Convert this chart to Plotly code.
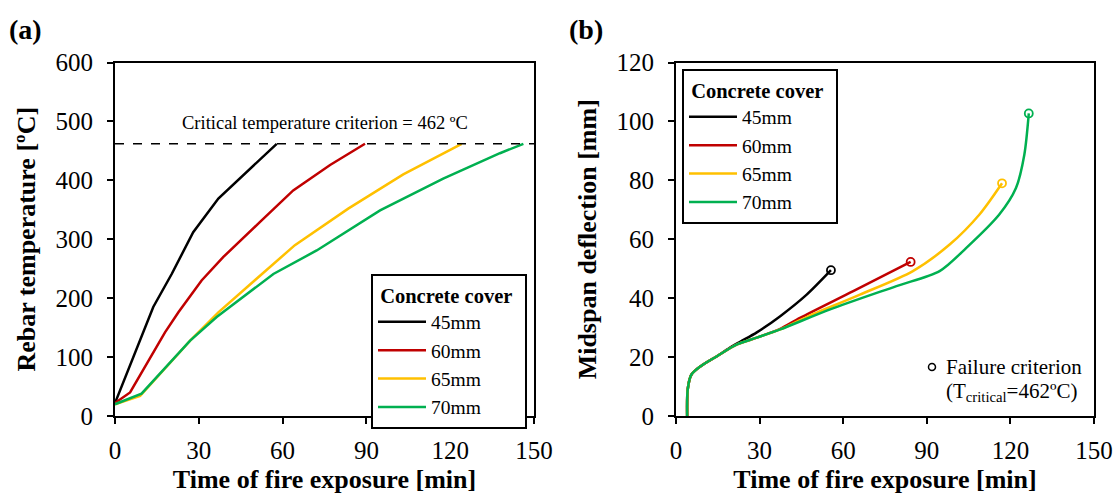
import plotly.graph_objects as go

# ---------------- data ----------------
series_names = ["45mm", "60mm", "65mm", "70mm"]
series_colors = ["#000000", "#C00000", "#FFC000", "#00B050"]

# (a) rebar temperature
time_a_45 = [0, 6.9, 13.7, 20.3, 28, 37, 57.9]
temp_a_45 = [22, 105, 185, 241, 312, 369, 462]
time_a_60 = [0, 5.4, 17.9, 22.7, 31, 38.8, 52.5, 63.8, 77, 89.5]
temp_a_60 = [22, 40, 142, 176, 230, 270, 332, 383, 426, 462]
time_a_65 = [0, 9, 26.9, 37, 64.4, 83.5, 103.2, 124.1]
temp_a_65 = [20, 34, 128, 176, 290, 352, 410, 462]
time_a_70 = [0, 9.5, 26.9, 36.4, 56.7, 72.2, 94.9, 117.5, 137.8, 146.2]
temp_a_70 = [20, 38, 128, 168, 241, 281, 349, 403, 446, 462]
critical_temp = 462

# (b) midspan deflection
time_b_45 = [4, 4.2, 5.5, 9, 14.7, 19, 23, 29, 37.4, 46.9, 55.6]
defl_b_45 = [0, 9, 14, 17, 20.3, 23, 25.2, 28.4, 33.9, 41.2, 49.5]
time_b_60 = [4, 4.2, 5.5, 9, 14.7, 21.9, 29, 37.4, 44.5, 63.6, 84.2]
defl_b_60 = [0, 9, 14, 17, 20.3, 24.3, 26.6, 29.6, 33.3, 42.4, 52.3]
time_b_65 = [4, 4.2, 5.5, 9, 14.7, 21.9, 29, 37.4, 46.9, 66, 85, 98.2, 108.9, 117]
defl_b_65 = [0, 9, 14, 17, 20.3, 24.3, 26.6, 29.4, 33.6, 41.2, 49.2, 58.2, 68.4, 79]
time_b_70 = [4, 4.2, 5.5, 9, 14.7, 21.9, 29, 37.4, 55.3, 79.1, 94.6, 104.1, 116, 122, 125, 126.6]
defl_b_70 = [0, 9, 14, 17, 20.3, 24.3, 26.6, 29.4, 36.2, 44.1, 49.2, 57, 68.4, 77.4, 88.7, 102.7]

data_a = [(time_a_45, temp_a_45), (time_a_60, temp_a_60), (time_a_65, temp_a_65), (time_a_70, temp_a_70)]
data_b = [(time_b_45, defl_b_45), (time_b_60, defl_b_60), (time_b_65, defl_b_65), (time_b_70, defl_b_70)]

# ---------------- figure ----------------
W, H = 1119, 497
FONT = "Liberation Serif, Times New Roman, serif"

fig = go.Figure()

for name, col, (t, v) in zip(series_names, series_colors, data_a):
    fig.add_trace(go.Scatter(x=t, y=v, mode="lines", name=name,
                             line=dict(color=col, width=2.5),
                             xaxis="x", yaxis="y", legend="legend"))

for name, col, (t, v) in zip(series_names, series_colors, data_b):
    fig.add_trace(go.Scatter(x=t, y=v, mode="lines", name=name,
                             line=dict(color=col, width=2.5, shape="spline", smoothing=0.8),
                             xaxis="x2", yaxis="y2", legend="legend2"))
    fig.add_trace(go.Scatter(x=[t[-1]], y=[v[-1]], mode="markers", showlegend=False,
                             marker=dict(symbol="circle-open", size=8, color=col,
                                         line=dict(width=1.8, color=col)),
                             xaxis="x2", yaxis="y2"))

# critical temperature line
fig.add_shape(type="line", xref="x", yref="y", x0=0, x1=150,
              y0=critical_temp, y1=critical_temp,
              line=dict(color="black", width=1.5, dash="dash"))

axis_common = dict(showline=True, linecolor="black", linewidth=2, mirror=True,
                   ticks="outside", ticklen=6, tickwidth=2, tickcolor="black",
                   showgrid=False, zeroline=False,
                   tickfont=dict(family=FONT, size=25, color="black"),
                   automargin=False)

title_font = dict(family=FONT, size=26, color="black", weight="bold")

yb, yt = (H - 416) / H, (H - 62.5) / H

legend_common = dict(xanchor="left", yanchor="top",
                     bgcolor="white", bordercolor="black", borderwidth=2,
                     font=dict(family=FONT, size=19.5, color="black"),
                     title=dict(text="&nbsp;<b>Concrete cover</b>&nbsp;&nbsp;",
                                font=dict(family=FONT, size=20.5, color="black")),
                     tracegroupgap=0, itemwidth=48)

fig.update_layout(
    width=W, height=H,
    margin=dict(l=0, r=0, t=0, b=0),
    paper_bgcolor="white", plot_bgcolor="white",
    xaxis=dict(domain=[115 / W, 534 / W], range=[0, 150], dtick=30, anchor="y",
               title=dict(text="Time of fire exposure [min]", font=title_font, standoff=7),
               ticklabelstandoff=5, **axis_common),
    yaxis=dict(domain=[yb, yt], range=[0, 600], dtick=100, anchor="x",
               title=dict(text="Rebar temperature [ºC]", font=title_font, standoff=12),
               ticklabelstandoff=9, **axis_common),
    xaxis2=dict(domain=[676 / W, 1094 / W], range=[0, 150], dtick=30, anchor="y2",
                title=dict(text="Time of fire exposure [min]", font=title_font, standoff=7),
                ticklabelstandoff=5, **axis_common),
    yaxis2=dict(domain=[yb, yt], range=[0, 120], dtick=20, anchor="x2",
                title=dict(text="Midspan deflection [mm]", font=title_font, standoff=12),
                ticklabelstandoff=9, **axis_common),
    legend=dict(x=371 / W, y=1 - 274 / H, **legend_common),
    legend2=dict(x=682 / W, y=1 - 69 / H, **legend_common),
    showlegend=True,
)

annotations = [
    dict(text="<b>(a)</b>", xref="paper", yref="paper", x=7 / W, y=1 - 29 / H,
         xanchor="left", yanchor="middle", showarrow=False,
         font=dict(family=FONT, size=28, color="black")),
    dict(text="<b>(b)</b>", xref="paper", yref="paper", x=567 / W, y=1 - 29 / H,
         xanchor="left", yanchor="middle", showarrow=False,
         font=dict(family=FONT, size=28, color="black")),
    dict(text="Critical temperature criterion = 462 ºC", xref="x", yref="y",
         x=75, y=497, xanchor="center", yanchor="middle", showarrow=False,
         font=dict(family=FONT, size=18.5, color="black")),
    dict(text="Failure criterion", xref="paper", yref="paper",
         x=944 / W, y=1 - 367 / H, xanchor="left", yanchor="middle", showarrow=False,
         font=dict(family=FONT, size=21, color="black")),
    dict(text="(T<sub>critical</sub>=462ºC)", xref="paper", yref="paper",
         x=944 / W, y=1 - 392 / H, xanchor="left", yanchor="middle", showarrow=False,
         font=dict(family=FONT, size=21, color="black")),
]
fig.update_layout(annotations=annotations)

# open circle symbol for the failure criterion note
fig.add_shape(type="circle", xref="paper", yref="paper",
              xsizemode="pixel", ysizemode="pixel",
              xanchor=932 / W, yanchor=1 - 367 / H,
              x0=-3.5, x1=3.5, y0=-3.5, y1=3.5,
              line=dict(color="black", width=1.5), fillcolor="white")

fig.write_html("out.html")
